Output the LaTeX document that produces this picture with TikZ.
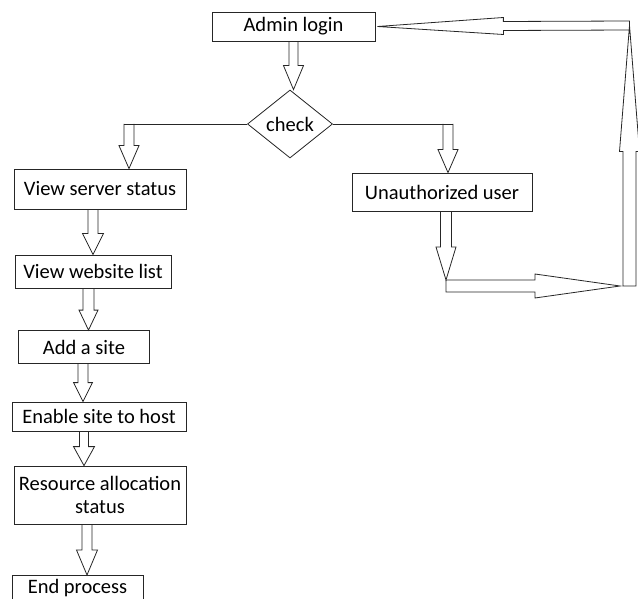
\documentclass[tikz,border=0pt]{standalone}
\usepackage{fontspec}
\setmainfont{Carlito}
\usetikzlibrary{calc,shapes}
\tikzset{>=latex}
\tikzset{flow/.style={draw=black!85,line width=0.8pt,line join=miter},
         box/.style={draw=black!85,line width=0.8pt,inner sep=0pt,font=\fontsize{20.5}{23}\selectfont}}

% [end of path]{from}{to}{shaft half width}{head half width}{head length}
\newcommand{\fatarrow}[6][]{%
    \path (#2) coordinate (fa-s) (#3) coordinate (fa-t);
    \path ($(fa-t)!#6!(fa-s)$) coordinate (fa-h);
    \draw[flow] ($(fa-s)!#4!90:(fa-t)$) -- ($(fa-h)!#4!90:(fa-t)$) -- ($(fa-h)!#5!90:(fa-t)$) -- (fa-t)
        -- ($(fa-h)!#5!-90:(fa-t)$) -- ($(fa-h)!#4!-90:(fa-t)$) -- ($(fa-s)!#4!-90:(fa-t)$) #1;
}

\begin{document}
\begin{tikzpicture}[x=1pt,y=-1pt]
    \useasboundingbox (0,0) rectangle (638,599);
    \clip (0,0) rectangle (638,599);

    \node [box,minimum width=163pt,minimum height=29pt] (admin) at (293.5,26.5) {Admin login};
    \node [box,diamond,minimum width=85pt,minimum height=68pt] (chk) at (290,124) {check};
    \node [box,minimum width=172pt,minimum height=40pt] (vs) at (100,189) {View server status};
    \node [box,minimum width=156pt,minimum height=33pt] (vw) at (93,271.5) {View website list};
    \node [box,minimum width=131pt,minimum height=33pt] (add) at (84,347) {Add a site};
    \node [box,minimum width=174pt,minimum height=29pt] (en) at (99,416.5) {Enable site to host};
    \node [box,minimum width=172pt,minimum height=58pt,align=center] (res) at (100,495) {Resource allocation\\status};
    \node [box,minimum width=131pt,text height=18pt,text depth=22pt,anchor=north] (endp) at (77.5,575) {End process};
    \node [box,minimum width=180pt,minimum height=38pt] (un) at (442,192) {Unauthorized user};

    \coordinate (cl) at (129,124);
    \coordinate (cr) at (448,124);
    \coordinate (lb) at (446,286);
    \coordinate (rb) at (629.5,286);
    \coordinate (rt) at (629.5,25.5);

    \fatarrow{admin.south}{admin.south |- chk.north}{4.5pt}{10pt}{24pt}
    \draw[flow] (chk.west) -- ([xshift=-5pt]cl);
    \fatarrow{cl}{cl |- vs.north}{5pt}{10pt}{23pt}
    \draw[flow] (chk.east) -- ([xshift=5pt]cr);
    \fatarrow{cr}{cr |- un.north}{5pt}{10pt}{23pt}

    \fatarrow{vw.north |- vs.south}{vw.north}{5pt}{10.5pt}{21pt}
    \fatarrow{$(vw.south)+(-4.5,0)$}{$(add.north)+(4.5,0)$}{5.5pt}{9.5pt}{20pt}
    \fatarrow{$(add.south)+(-1,0)$}{$(en.north)+(-16,0)$}{5pt}{9.5pt}{19pt}
    \fatarrow{$(en.south)+(-15,0)$}{$(res.north)+(-16,0)$}{4.5pt}{10.5pt}{19pt}
    \fatarrow{$(res.south)+(-13,0)$}{$(endp.north)+(9.5,0)$}{5pt}{10.5pt}{25pt}

    %back to login
    \fatarrow{$(un.south)+(4,0)$}{$(lb)+(0,-6)$}{5.5pt}{10pt}{33pt}
    \fatarrow[-- cycle]{lb}{$(rb)+(-9.5,0)$}{6pt}{12pt}{85pt}
    \fatarrow[-- cycle]{rb}{rt}{6.5pt}{10pt}{126pt}
    \fatarrow[-- cycle]{rt}{$(admin.east)+(2,0)$}{4.5pt}{8.5pt}{126pt}

\end{tikzpicture}
\end{document}
